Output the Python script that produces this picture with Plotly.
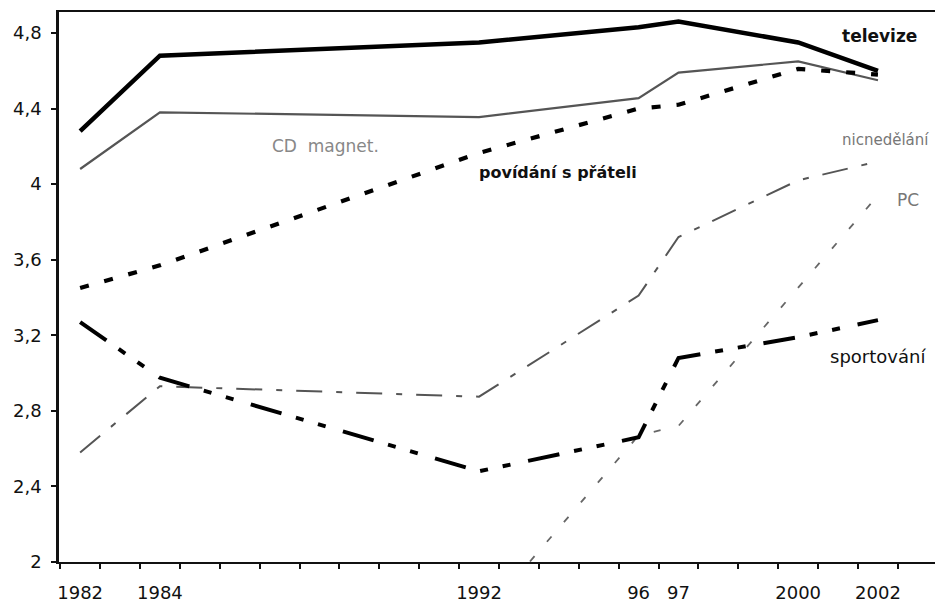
import plotly.graph_objects as go

years = [1982, 1984, 1992, 1996, 1997, 2000, 2002]
tick_years = [1982, 1984, 1992, 1996, 1997, 2000, 2002]
tick_labels = ["1982", "1984", "1992", "96", "97", "2000", "2002"]
y_ticks = [2, 2.4, 2.8, 3.2, 3.6, 4, 4.4, 4.8]
y_tick_labels = ["2", "2,4", "2,8", "3,2", "3,6", "4", "4,4", "4,8"]

televize = [4.28, 4.68, 4.75, 4.83, 4.86, 4.75, 4.60]
cd_magnet = [4.08, 4.38, 4.355, 4.455, 4.59, 4.65, 4.55]
povidani = [3.45, 3.57, 4.165, 4.40, 4.42, 4.61, 4.58]
nicnedelani = [2.58, 2.93, 2.875, 3.41, 3.72, 4.02, 4.12]
pc = [None, None, 1.69, 2.67, 2.72, 3.45, 3.94]
sportovani = [3.27, 2.975, 2.48, 2.66, 3.08, 3.19, 3.28]

fig = go.Figure()

def add(vals, color, width, dash):
    fig.add_trace(go.Scatter(x=years, y=vals, mode="lines",
                             line=dict(color=color, width=width, dash=dash),
                             showlegend=False, hoverinfo="skip"))

add(nicnedelani, "#555555", 2, "26px,14px,6px,14px")
add(pc, "#666666", 1.8, "7px,19px")
add(cd_magnet, "#555555", 2.2, "solid")
add(sportovani, "#000000", 4, "32px,15px,8px,15px,8px,18px")
add(povidani, "#000000", 4.2, "9px,16px")
add(televize, "#000000", 4.5, "solid")

F = "DejaVu Sans"
annots = [
    dict(text="<b>televize</b>", x=2002.05, y=4.784, size=17, color="#111111"),
    dict(text="CD  magnet.", x=1988.14, y=4.202, size=17, color="#888888"),
    dict(text="<b>povídání s přáteli</b>", x=1993.98, y=4.059, size=16, color="#111111"),
    dict(text="nicnedělání", x=2002.18, y=4.234, size=15, color="#777777"),
    dict(text="PC", x=2002.75, y=3.916, size=17, color="#777777"),
    dict(text="sportování", x=2002.0, y=3.09, size=18, color="#111111"),
]
for a in annots:
    fig.add_annotation(text=a["text"], x=a["x"], y=a["y"], xref="x", yref="y",
                       showarrow=False, font=dict(family=F, size=a["size"], color=a["color"]))

fig.update_layout(
    width=935, height=604,
    margin=dict(l=59, r=0, t=12, b=42),
    paper_bgcolor="white", plot_bgcolor="white",
    separators=", ",
    font=dict(family=F, size=18, color="#111111"),
    xaxis=dict(range=[1981.47, 2003.43], tickmode="array", tickvals=tick_years,
               ticktext=tick_labels, ticks="", showgrid=False, zeroline=False,
               showline=True, linecolor="#111111", linewidth=2, mirror=True,
               ticklabelstandoff=13,
               tickfont=dict(family=F, size=18, color="#111111"),
               minor=dict(tickmode="array",
                          tickvals=[y + 0.5 for y in range(1981, 2003)],
                          ticks="outside", ticklen=5, tickwidth=1.5,
                          tickcolor="#111111", showgrid=False)),
    yaxis=dict(range=[2, 4.911], tickmode="array", tickvals=y_ticks,
               ticktext=y_tick_labels, ticks="outside", ticklen=5, tickwidth=1.5,
               tickcolor="#111111", showgrid=False, zeroline=False,
               showline=True, linecolor="#111111", linewidth=2.5,
               ticklabelstandoff=6,
               tickfont=dict(family=F, size=18, color="#111111")),
)

fig.write_html("out.html", config={"displayModeBar": False},
               post_script="document.body.style.margin='0';document.body.style.overflow='hidden';")
